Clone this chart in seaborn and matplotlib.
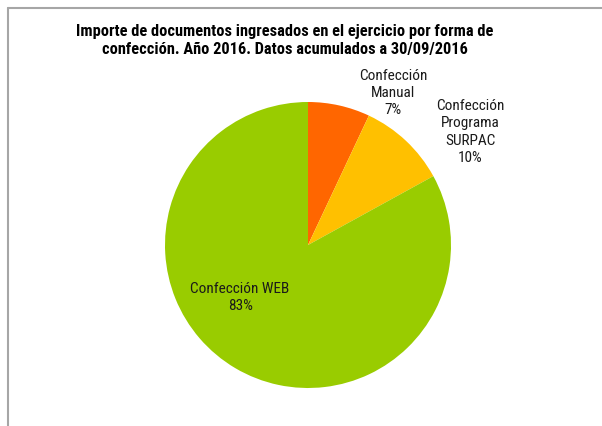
import matplotlib
matplotlib.use("Agg")
import matplotlib.pyplot as plt
import seaborn as sns
from matplotlib import font_manager

categories = ["Confección\nManual", "Confección\nPrograma\nSURPAC", "Confección WEB"]
shares = [7, 10, 83]
pct_labels = ["7%", "10%", "83%"]
colors = ["#FF6600", "#FFC000", "#99CC00"]

sns.set_theme(style="white")
installed = {f.name for f in font_manager.fontManager.ttflist}
family = next((f for f in ("Roboto Condensed", "Archivo Narrow", "PT Sans Narrow",
                           "Liberation Sans Narrow") if f in installed), "DejaVu Sans")
plt.rcParams["font.family"] = [family, "DejaVu Sans"]

W, H = 602, 426
fig = plt.figure(figsize=(W / 100, H / 100), dpi=100)
ax = fig.add_axes([0, 0, 1, 1])

cx, cy, r = 308, H - 245, 143
wedges, _ = ax.pie(shares, colors=colors, startangle=90, counterclock=False,
                   center=(cx, cy), radius=r, frame=True,
                   wedgeprops=dict(linewidth=0))
ax.set_xlim(0, W)
ax.set_ylim(0, H)
ax.axis("off")

renderer = fig.canvas.get_renderer()


def fitted_size(text, width_px, base, **kw):
    probe = fig.text(0, 0, text, fontsize=base, **kw)
    w = probe.get_window_extent(renderer).width
    probe.remove()
    return base * width_px / w


label_size = fitted_size("Confección", 68, 10)

# label anchors, in units of the pie radius from its centre
label_offsets = [(0.594, 1.063), (1.133, 0.79), (-0.475, -0.364)]
for cat, pct, (dx, dy) in zip(categories, pct_labels, label_offsets):
    ax.text(cx + dx * r, cy + dy * r, f"{cat}\n{pct}", ha="center", va="center",
            fontsize=label_size, color="#1a1a1a", linespacing=1.28)

title_1 = "Importe de documentos ingresados en el ejercicio por forma de"
title_2 = "confección. Año 2016. Datos acumulados a 30/09/2016"
title_size = fitted_size(title_1, 415, 11, fontweight="bold")
fig.text(285 / W, 1 - 40.5 / H, f"{title_1}\n{title_2}",
         ha="center", va="center", fontsize=title_size, fontweight="bold",
         color="black", linespacing=1.29)

# chart frame
ax.plot([7.5, W], [H - 7.5, H - 7.5], color="#A6A6A6", lw=1.5, clip_on=False)
ax.plot([7.5, 7.5], [0, H - 7.5], color="#A6A6A6", lw=1.5, clip_on=False)

fig.savefig("out.png", dpi=100)
